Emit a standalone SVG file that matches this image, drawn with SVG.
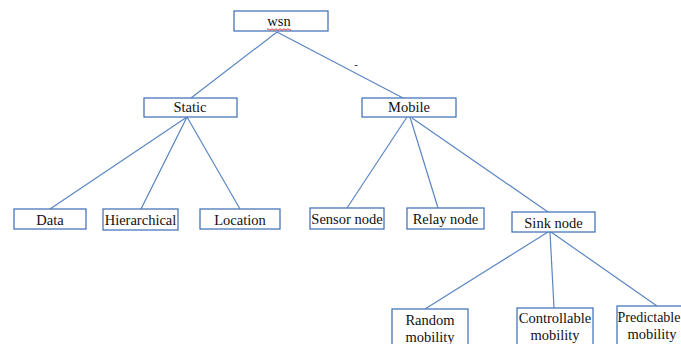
<svg xmlns="http://www.w3.org/2000/svg" width="681" height="344" viewBox="0 0 681 344">
<style>
.box{fill:#ffffff;stroke:#4a76b8;stroke-width:1.3}
.t{font-family:"Liberation Serif","Times New Roman",serif;font-size:14.5px;fill:#111;text-anchor:middle}
.edge{stroke:#5b86c4;stroke-width:1.2;fill:none}
</style>
<rect width="681" height="344" fill="#ffffff"/>
<g id="connectors">
<line class="edge" x1="277" y1="32" x2="191" y2="98"/>
<line class="edge" x1="277" y1="32" x2="403" y2="98"/>
<line class="edge" x1="187" y1="117" x2="50" y2="209"/>
<line class="edge" x1="187" y1="117" x2="141" y2="209"/>
<line class="edge" x1="187" y1="117" x2="240" y2="209"/>
<line class="edge" x1="407" y1="117" x2="347" y2="208"/>
<line class="edge" x1="410" y1="117" x2="438" y2="208"/>
<line class="edge" x1="412" y1="118" x2="548" y2="212"/>
<line class="edge" x1="548" y1="232" x2="425" y2="309"/>
<line class="edge" x1="550" y1="232" x2="554" y2="308"/>
<line class="edge" x1="551" y1="232" x2="657" y2="306"/>
</g>
<text x="356" y="68" class="t" style="font-size:11px">-</text>
<g id="wsn">
<rect class="box" x="234" y="11" width="94" height="20"/>
<text class="t" x="279" y="26">wsn</text>
<path d="M267 29.5 q1 -1.5 2 0 t2 0 t2 0 t2 0 t2 0 t2 0 t2 0 t2 0 t2 0 t2 0 t2 0 t2 0" stroke="#e02020" stroke-width="0.9" fill="none"/>
</g>
<g id="static">
<rect class="box" x="144" y="98" width="93" height="19"/>
<text class="t" x="190" y="112">Static</text>
</g>
<g id="mobile">
<rect class="box" x="362" y="98" width="94" height="19"/>
<text class="t" x="409" y="112">Mobile</text>
</g>
<g id="data">
<rect class="box" x="14" y="209" width="72" height="20"/>
<text class="t" x="50" y="225">Data</text>
</g>
<g id="hierarchical">
<rect class="box" x="103" y="209" width="75" height="21"/>
<text class="t" x="140.5" y="225">Hierarchical</text>
</g>
<g id="location">
<rect class="box" x="200" y="209" width="80" height="20"/>
<text class="t" x="240" y="225">Location</text>
</g>
<g id="sensor-node">
<rect class="box" x="310" y="208" width="74" height="21"/>
<text class="t" x="347" y="224">Sensor node</text>
</g>
<g id="relay-node">
<rect class="box" x="407" y="208" width="77" height="21"/>
<text class="t" x="445.5" y="224">Relay node</text>
</g>
<g id="sink-node">
<rect class="box" x="512" y="212" width="83" height="20"/>
<text class="t" x="553.5" y="228">Sink node</text>
</g>
<g id="random-mobility">
<rect class="box" x="392" y="309" width="76" height="40"/>
<text class="t" x="430" y="325">Random</text>
<text class="t" x="430" y="342">mobility</text>
</g>
<g id="controllable-mobility">
<rect class="box" x="517" y="308" width="76" height="40"/>
<text class="t" x="555" y="323">Controllable</text>
<text class="t" x="555" y="340">mobility</text>
</g>
<g id="predictable-mobility">
<rect class="box" x="617" y="306" width="76" height="40"/>
<text class="t" x="649" y="322" style="font-size:14px">Predictable</text>
<text class="t" x="652" y="339">mobility</text>
</g>
</svg>
